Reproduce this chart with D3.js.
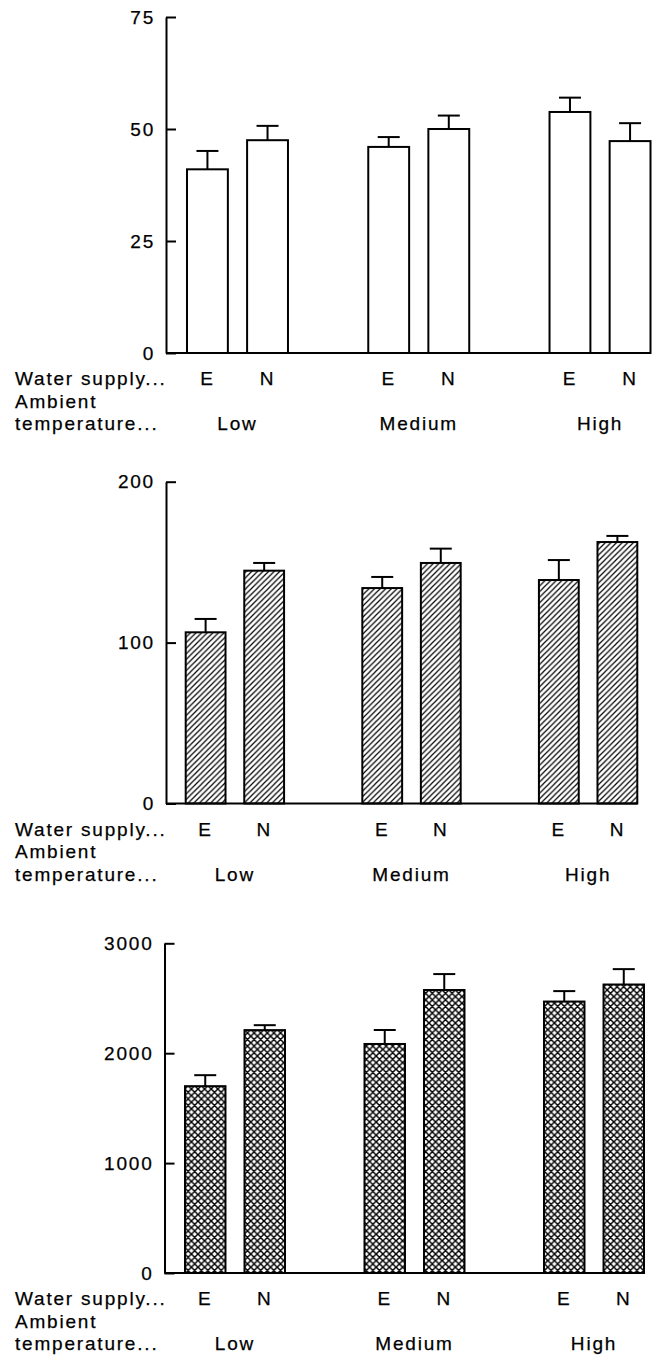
<!DOCTYPE html>
<html>
<head>
<meta charset="utf-8">
<script src="https://cdn.jsdelivr.net/npm/d3@7"></script>
<style>
  html, body { margin: 0; padding: 0; background: #fff; }
  svg { display: block; }
  text { font-family: "Liberation Sans", Arial, sans-serif; font-size: 19px; letter-spacing: 1.8px; fill: #000; stroke: #000; stroke-width: 0.25px; }
</style>
</head>
<body>
<script>
// ---------- DATA ----------
const temperatures = ["Low", "Medium", "High"];
const waterSupply = ["E", "N"];
// order: Low-E, Low-N, Medium-E, Medium-N, High-E, High-N
const panel1Means  = [41.0, 47.5, 46.0, 50.0, 53.8, 47.3];
const panel1Errors = [4.1, 3.2, 2.2, 3.0, 3.2, 4.0];
const panel2Means  = [106.4, 144.7, 133.9, 149.5, 138.9, 162.5];
const panel2Errors = [8.3, 4.8, 6.9, 8.9, 12.4, 3.8];
const panel3Means  = [1700, 2210, 2084, 2575, 2470, 2625];
const panel3Errors = [100, 45, 127, 145, 95, 140];
const panel1Ticks = [0, 25, 50, 75];
const panel2Ticks = [0, 100, 200];
const panel3Ticks = [0, 1000, 2000, 3000];
const rowLabel1 = "Water supply...";
const rowLabel2a = "Ambient";
const rowLabel2b = "temperature...";

// ---------- LAYOUT ----------
const W = 661, H = 1355;
const panels = [
  { means: panel1Means, errors: panel1Errors, ticks: panel1Ticks, yRange: [353, 17],      axisX: 166,   xRange: [187, 650.5],   fill: "#fff" },
  { means: panel2Means, errors: panel2Errors, ticks: panel2Ticks, yRange: [803.5, 481.7], axisX: 166,   xRange: [185.7, 637.3], fill: "url(#diag)" },
  { means: panel3Means, errors: panel3Errors, ticks: panel3Ticks, yRange: [1273, 943.3],  axisX: 164.5, xRange: [185, 644],     fill: "url(#cross)" }
];

const svg = d3.select("body").append("svg").attr("width", W).attr("height", H);

// patterns
const defs = svg.append("defs");
const dp = 5.6;
defs.append("pattern").attr("id", "diag").attr("patternUnits", "userSpaceOnUse")
  .attr("width", dp).attr("height", dp)
  .call(p => {
    p.append("rect").attr("width", dp).attr("height", dp).attr("fill", "#fff");
    p.append("path").attr("d", `M0,${dp} L${dp},0 M-1,1 L1,-1 M${dp-1},${dp+1} L${dp+1},${dp-1}`)
      .attr("stroke", "#000").attr("stroke-width", 1.2);
  });
const cp = 6.6;
defs.append("pattern").attr("id", "cross").attr("patternUnits", "userSpaceOnUse")
  .attr("width", cp).attr("height", cp)
  .call(p => {
    p.append("rect").attr("width", cp).attr("height", cp).attr("fill", "#fff");
    p.append("path").attr("d",
      `M0,${cp} L${cp},0 M-1,1 L1,-1 M${cp-1},${cp+1} L${cp+1},${cp-1} ` +
      `M0,0 L${cp},${cp} M-1,${cp-1} L1,${cp+1} M${cp-1},-1 L${cp+1},1`)
      .attr("stroke", "#000").attr("stroke-width", 1.5);
  });

panels.forEach(pn => {
  const g = svg.append("g");
  const y = d3.scaleLinear().domain([0, d3.max(pn.ticks)]).range(pn.yRange);
  const outer = d3.scaleBand().domain(temperatures).range(pn.xRange).paddingInner(0.443).paddingOuter(0);
  const inner = d3.scaleBand().domain(waterSupply).range([0, outer.bandwidth()]).paddingInner(0.32).paddingOuter(0);

  const rows = [];
  temperatures.forEach((t, ti) => waterSupply.forEach((w, wi) => {
    const i = ti * waterSupply.length + wi;
    rows.push({ t, w, mean: pn.means[i], err: pn.errors[i] });
  }));
  const xc = d => outer(d.t) + inner(d.w) + inner.bandwidth() / 2;

  // bars
  g.selectAll("rect.bar").data(rows).join("rect").attr("class", "bar")
    .attr("x", d => outer(d.t) + inner(d.w))
    .attr("width", inner.bandwidth())
    .attr("y", d => y(d.mean))
    .attr("height", d => y(0) - y(d.mean))
    .attr("fill", pn.fill).attr("stroke", "#000").attr("stroke-width", 2);

  // error bars
  g.selectAll("line.err").data(rows).join("line").attr("class", "err")
    .attr("x1", xc).attr("x2", xc)
    .attr("y1", d => y(d.mean)).attr("y2", d => y(d.mean + d.err))
    .attr("stroke", "#000").attr("stroke-width", 2);
  g.selectAll("line.cap").data(rows).join("line").attr("class", "cap")
    .attr("x1", d => xc(d) - 11).attr("x2", d => xc(d) + 11)
    .attr("y1", d => y(d.mean + d.err)).attr("y2", d => y(d.mean + d.err))
    .attr("stroke", "#000").attr("stroke-width", 2);

  // y axis
  const ax = g.append("g").attr("transform", `translate(${pn.axisX},0)`)
    .call(d3.axisLeft(y).tickValues(pn.ticks).tickFormat(d3.format("d"))
      .tickSizeInner(-10).tickSizeOuter(0).tickPadding(11));
  ax.select(".domain").attr("stroke", "#000").attr("stroke-width", 2);
  ax.selectAll(".tick line").attr("stroke", "#000").attr("stroke-width", 2);
  ax.selectAll(".tick text").attr("fill", "#000");
  ax.attr("font-family", null).attr("font-size", null);

  // baseline
  g.append("line").attr("x1", pn.axisX).attr("x2", pn.xRange[1])
    .attr("y1", y(0)).attr("y2", y(0)).attr("stroke", "#000").attr("stroke-width", 2);

  // category labels
  const b0 = y(0);
  g.selectAll("text.ws").data(rows).join("text").attr("class", "ws")
    .attr("x", xc).attr("y", b0 + 32).attr("text-anchor", "middle").text(d => d.w);
  g.selectAll("text.tp").data(temperatures).join("text").attr("class", "tp")
    .attr("x", t => outer(t) + outer.bandwidth() / 2).attr("y", b0 + 77)
    .attr("text-anchor", "middle").text(t => t);
  g.append("text").attr("x", 15).attr("y", b0 + 32).text(rowLabel1);
  g.append("text").attr("x", 15).attr("y", b0 + 54.5).text(rowLabel2a);
  g.append("text").attr("x", 15).attr("y", b0 + 77).text(rowLabel2b);
});
</script>
</body>
</html>
